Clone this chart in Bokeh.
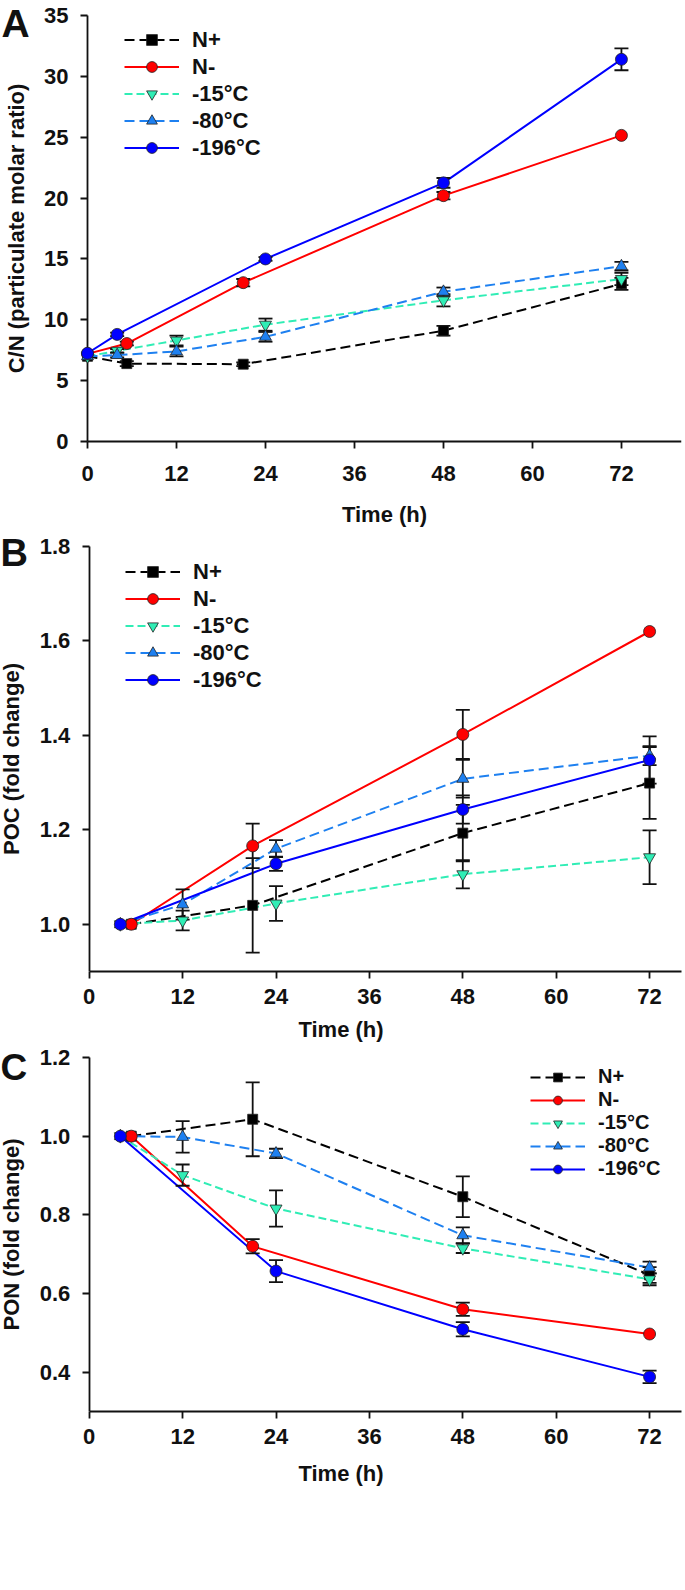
from bokeh.plotting import figure
from bokeh.models import (ColumnDataSource, Whisker, TeeHead, Legend, LegendItem,
                          FixedTicker, PrintfTickFormatter, Label, Range1d)
from bokeh.layouts import column
from bokeh.embed import file_html
from bokeh.resources import INLINE

FONT = "Liberation Sans"

time_ticks = [0, 12, 24, 36, 48, 60, 72]
series_names = ["N+", "N-", "-15°C", "-80°C", "-196°C"]

# ---------------- Panel A : C/N (particulate molar ratio) ----------------
a_time_n = [0, 5.3, 21, 48, 72]
a_time_f = [0, 4, 12, 24, 48, 72]
a_time_196 = [0, 4, 24, 48, 72]
a_nplus = [7.0, 6.4, 6.35, 9.1, 12.95]
a_nplus_err = [0.0, 0.2, 0.15, 0.4, 0.5]
a_nminus = [7.2, 8.05, 13.05, 20.2, 25.15]
a_nminus_err = [0.0, 0.15, 0.3, 0.3, 0.0]
a_m15 = [7.0, 7.45, 8.3, 9.6, 11.6, 13.35]
a_m15_err = [0.0, 0.15, 0.4, 0.5, 0.5, 0.5]
a_m80 = [7.0, 7.1, 7.4, 8.6, 12.3, 14.4]
a_m80_err = [0.0, 0.2, 0.4, 0.4, 0.35, 0.35]
a_m196 = [7.25, 8.8, 15.0, 21.25, 31.4]
a_m196_err = [0.0, 0.15, 0.15, 0.4, 0.9]
a_yticks = [0, 5, 10, 15, 20, 25, 30, 35]

# ---------------- Panel B : POC (fold change) ----------------
b_time_n = [5.4, 21, 48, 72]
b_time_f = [4, 12, 24, 48, 72]
b_time_196 = [4, 24, 48, 72]
b_nplus = [1.0, 1.04, 1.193, 1.299]
b_nplus_err = [0.0, 0.10, 0.06, 0.076]
b_nminus = [1.0, 1.166, 1.402, 1.62]
b_nminus_err = [0.0, 0.047, 0.052, 0.0]
b_m15 = [1.0, 1.008, 1.044, 1.106, 1.142]
b_m15_err = [0.0, 0.021, 0.037, 0.03, 0.057]
b_m80 = [1.0, 1.042, 1.16, 1.308, 1.357]
b_m80_err = [0.0, 0.032, 0.018, 0.04, 0.02]
b_m196 = [1.0, 1.128, 1.243, 1.348]
b_m196_err = [0.0, 0.015, 0.03, 0.05]
b_yticks = [1.0, 1.2, 1.4, 1.6, 1.8]

# ---------------- Panel C : PON (fold change) ----------------
c_time_n = [5.4, 21, 48, 72]
c_time_f = [4, 12, 24, 48, 72]
c_time_196 = [4, 24, 48, 72]
c_nplus = [1.0, 1.043, 0.846, 0.647]
c_nplus_err = [0.0, 0.094, 0.052, 0.02]
c_nminus = [1.0, 0.72, 0.56, 0.497]
c_nminus_err = [0.0, 0.018, 0.017, 0.0]
c_m15 = [1.0, 0.901, 0.816, 0.715, 0.636]
c_m15_err = [0.0, 0.027, 0.046, 0.012, 0.015]
c_m80 = [1.0, 0.998, 0.956, 0.748, 0.666]
c_m80_err = [0.0, 0.04, 0.012, 0.02, 0.015]
c_m196 = [1.0, 0.657, 0.509, 0.388]
c_m196_err = [0.0, 0.028, 0.018, 0.016]
c_yticks = [0.4, 0.6, 0.8, 1.0, 1.2]

STYLE = {
    "N+": dict(color="#000000", dash="10 5", marker="square", size=10),
    "N-": dict(color="#FF0000", dash="solid", marker="circle", size=12),
    "-15°C": dict(color="#30EDB5", dash="8 4", marker="inverted_triangle", size=12),
    "-80°C": dict(color="#1E80F0", dash="10 5", marker="triangle", size=12),
    "-196°C": dict(color="#0000FF", dash="solid", marker="circle", size=12),
}

W = 685


def make_panel(series, ylabel, yaxis_range, yticks, yfmt, xmax,
               height, axis_left, axis_top, bottom, right, x_std, y_std,
               legend_loc, legend_row, legend_font, fixed_x=False):
    # plot area spans the left/top margin so the panel letter can sit in it;
    # the axes themselves are restricted to their data bounds
    frame_w = W - right
    xpp = (frame_w - axis_left) / xmax                       # px per hour
    ypp = (height - bottom - axis_top) / (yaxis_range[1] - yaxis_range[0])
    x0 = -axis_left / xpp
    y1 = yaxis_range[1] + axis_top / ypp
    y0 = yaxis_range[0] - (bottom / ypp if fixed_x else 0)
    p = figure(width=W, height=height, output_backend="svg", toolbar_location=None,
               x_range=Range1d(x0, xmax), y_range=Range1d(y0, y1),
               min_border_left=0, min_border_right=right,
               min_border_top=0, min_border_bottom=0 if fixed_x else bottom)
    p.outline_line_color = None
    p.grid.visible = False
    p.background_fill_color = "white"
    for ax in (p.xaxis[0], p.yaxis[0]):
        ax.axis_line_color = "#111111"
        ax.axis_line_width = 1.8
        ax.major_tick_line_color = "#111111"
        ax.major_tick_line_width = 1.8
        ax.major_tick_out = 7
        ax.major_tick_in = 0
        ax.minor_tick_line_color = None
        ax.major_label_text_font = FONT
        ax.major_label_text_font_style = "bold"
        ax.major_label_text_font_size = "22px"
        ax.major_label_text_color = "#111111"
        ax.axis_label_text_font = FONT
        ax.axis_label_text_font_style = "bold"
        ax.axis_label_text_font_size = "22px"
        ax.axis_label_text_color = "#111111"
    p.xaxis.ticker = FixedTicker(ticks=time_ticks)
    p.xaxis.bounds = (0, xmax)
    if fixed_x:
        p.xaxis.fixed_location = yaxis_range[0]
    p.xaxis.axis_label = "Time (h)"
    p.xaxis.major_label_standoff = x_std[0]
    p.xaxis.axis_label_standoff = x_std[1]
    p.yaxis.ticker = FixedTicker(ticks=yticks)
    p.yaxis.formatter = PrintfTickFormatter(format=yfmt)
    p.yaxis.fixed_location = 0
    p.yaxis.bounds = yaxis_range
    p.yaxis.axis_label = ylabel
    p.yaxis.major_label_standoff = y_std[0]
    p.yaxis.axis_label_standoff = y_std[1]

    items = []
    for name in series_names:
        t, y, e = series[name]
        st = STYLE[name]
        lr = p.line(t, y, line_color=st["color"], line_width=2, line_dash=st["dash"])
        pts = [(ti, yi, ei) for ti, yi, ei in zip(t, y, e) if ei > 0]
        if pts:
            src = ColumnDataSource(dict(x=[q[0] for q in pts],
                                        upper=[q[1] + q[2] for q in pts],
                                        lower=[q[1] - q[2] for q in pts]))
            w = Whisker(source=src, base="x", upper="upper", lower="lower",
                        line_color="#111111", line_width=1.8, level="glyph",
                        upper_head=TeeHead(size=14, line_color="#111111", line_width=1.8),
                        lower_head=TeeHead(size=14, line_color="#111111", line_width=1.8))
            p.add_layout(w)
        sr = p.scatter(t, y, marker=st["marker"], size=st["size"],
                       fill_color=st["color"], line_color="#222222", line_width=0.8,
                       level="annotation")
        items.append(LegendItem(label=name, renderers=[lr, sr]))

    lx, ly = legend_loc
    if fixed_x:
        ly += bottom
    leg = Legend(items=items, location=(lx, ly), padding=0, margin=0,
                 spacing=0, glyph_width=55, glyph_height=legend_row,
                 label_height=legend_row, label_standoff=13,
                 label_text_font=FONT, label_text_font_style="bold",
                 label_text_font_size=legend_font, label_text_color="#111111",
                 border_line_color=None, background_fill_alpha=0)
    p.add_layout(leg)
    return p, xpp, ypp


def letter(text, x, y, size):
    return Label(x=x, y=y, text=text, text_font=FONT, text_font_style="bold",
                 text_font_size=size, text_color="#111111",
                 text_baseline="top", text_align="left")


series_a = {
    "N+": (a_time_n, a_nplus, a_nplus_err),
    "N-": (a_time_n, a_nminus, a_nminus_err),
    "-15°C": (a_time_f, a_m15, a_m15_err),
    "-80°C": (a_time_f, a_m80, a_m80_err),
    "-196°C": (a_time_196, a_m196, a_m196_err),
}
series_b = {
    "N+": (b_time_n, b_nplus, b_nplus_err),
    "N-": (b_time_n, b_nminus, b_nminus_err),
    "-15°C": (b_time_f, b_m15, b_m15_err),
    "-80°C": (b_time_f, b_m80, b_m80_err),
    "-196°C": (b_time_196, b_m196, b_m196_err),
}
series_c = {
    "N+": (c_time_n, c_nplus, c_nplus_err),
    "N-": (c_time_n, c_nminus, c_nminus_err),
    "-15°C": (c_time_f, c_m15, c_m15_err),
    "-80°C": (c_time_f, c_m80, c_m80_err),
    "-196°C": (c_time_196, c_m196, c_m196_err),
}

pA, xa, ya = make_panel(series_a, "C/N (particulate molar ratio)", (0, 35), a_yticks, "%d",
                        80.1, 530, 87, 15, 89, 4, (17, 18), (12, 12), (124, 280), 27, "22px",
                        fixed_x=True)
pB, xb, yb = make_panel(series_b, "POC (fold change)", (0.9, 1.8), b_yticks, "%.1f",
                        76.1, 515, 89, 16, 74, 2, (10, 10), (12, 13), (125, 278), 27, "22px")
pC, xc, yc = make_panel(series_c, "PON (fold change)", (0.3, 1.2), c_yticks, "%.1f",
                        76.1, 455, 89, 12, 89, 2, (10, 14), (12, 13), (530, 231), 22, "20px")

# panel letters (top-anchored), placed in data space of the extended plot area
pA.add_layout(letter("A", -86 / xa, 440 / ya, "39px"))
pB.add_layout(letter("B", -89 / xb, 0.9 + 440 / yb, "38px"))
pC.add_layout(letter("C", -89 / xc, 0.3 + 365 / yc, "37px"))

layout = column(pA, pB, pC, spacing=0)
open("out.html", "w").write(file_html(layout, INLINE))
